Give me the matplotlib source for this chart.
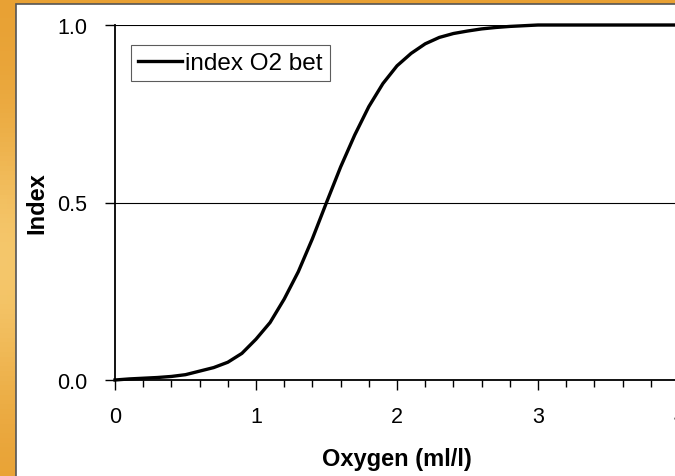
import matplotlib
matplotlib.use("Agg")
import matplotlib.pyplot as plt
import numpy as np
from matplotlib.patches import Rectangle

# data
oxygen = [0.0, 0.1, 0.2, 0.3, 0.4, 0.5, 0.6, 0.7, 0.8, 0.9,
          1.0, 1.1, 1.2, 1.3, 1.4, 1.5, 1.6, 1.7, 1.8, 1.9,
          2.0, 2.1, 2.2, 2.3, 2.4, 2.5, 2.6, 2.7, 2.8, 2.9,
          3.0, 4.0]
index_o2 = [0.000, 0.003, 0.005, 0.007, 0.010, 0.015, 0.025, 0.035, 0.050, 0.075,
            0.115, 0.162, 0.228, 0.305, 0.398, 0.500, 0.600, 0.690, 0.770, 0.835,
            0.885, 0.920, 0.947, 0.965, 0.976, 0.983, 0.989, 0.993, 0.996, 0.998,
            1.000, 1.000]
x_ticks = [0, 1, 2, 3, 4]
y_ticks = [0.0, 0.5, 1.0]
legend_label = "index O2 bet"

plt.rcParams["font.family"] = ["Liberation Sans", "DejaVu Sans"]

W, H = 675, 477
fig = plt.figure(figsize=(W / 100, H / 100), dpi=100)
fig.patch.set_facecolor("#e9a536")

# orange backdrop, slightly lighter toward the left middle
bg = fig.add_axes([0, 0, 1, 1], zorder=-10)
gy, gx = np.mgrid[0:1:100j, 0:1:100j]
light = np.exp(-((gx - 0.0) ** 2 / 0.02 + (gy - 0.55) ** 2 / 0.08))
c1 = np.array([0.91, 0.63, 0.20])
c2 = np.array([0.96, 0.78, 0.42])
img = c1[None, None, :] * (1 - light[..., None]) + c2[None, None, :] * light[..., None]
bg.imshow(img, extent=[0, 1, 0, 1], aspect="auto", origin="upper")
bg.axis("off")

# white panel
fig.patches.append(Rectangle((16 / W, -0.01), 1.0, 1 - 5 / H + 0.01,
                             transform=fig.transFigure, facecolor="white",
                             edgecolor="#555555", linewidth=1.2, zorder=-5))

ax = fig.add_axes([115 / W, 1 - 381 / H, (679 - 115) / W, (381 - 26) / H])
ax.set_facecolor("none")
ax.plot(oxygen, index_o2, color="black", linewidth=2.4, label=legend_label,
        clip_on=False, zorder=3)

ax.set_xlim(0, 4)
ax.set_ylim(0, 1)
ax.set_xticks(x_ticks)
ax.set_xticks(np.arange(0, 4.01, 0.2), minor=True)
ax.set_yticks(y_ticks)
ax.set_yticklabels(["%.1f" % v for v in y_ticks])
ax.tick_params(axis="both", which="major", direction="out", length=7, width=1,
               labelsize=15.5, color="black")
ax.tick_params(axis="x", which="minor", direction="out", length=5, width=1)
ax.tick_params(axis="x", which="major", pad=12)
ax.tick_params(axis="y", which="major", pad=13)

for s in ["top", "right"]:
    ax.spines[s].set_visible(False)
for s in ["left", "bottom"]:
    ax.spines[s].set_linewidth(1.3)

ax.grid(axis="y", color="black", linewidth=0.8)
ax.set_axisbelow(True)

ax.set_xlabel("Oxygen (ml/l)", fontsize=17, fontweight="bold", labelpad=14)
ax.set_ylabel("Index", fontsize=17, fontweight="bold", labelpad=6)

leg = ax.legend(loc="upper left", bbox_to_anchor=(0.028, 0.944), borderaxespad=0,
                fontsize=17.5, frameon=True, fancybox=False, handlelength=1.8,
                handletextpad=0.15, borderpad=0.3)
leg.get_frame().set_edgecolor("#333333")
leg.get_frame().set_linewidth(0.8)

plt.savefig("out.png", dpi=100, facecolor=fig.get_facecolor())
